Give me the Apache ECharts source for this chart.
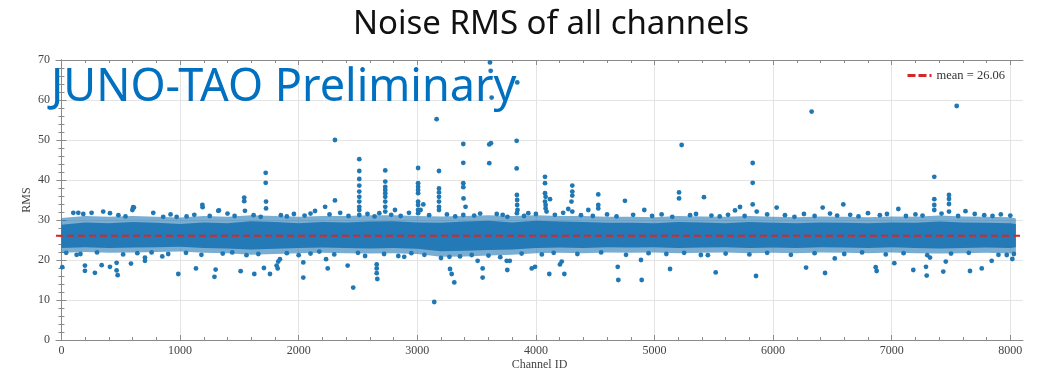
<!DOCTYPE html>
<html><head><meta charset="utf-8">
<script src="https://cdn.jsdelivr.net/npm/echarts@6/dist/echarts.min.js"></script>
<style>html,body{margin:0;padding:0;background:#fff}#c{width:1038px;height:376px}</style>
</head><body><div id="c"></div>
<script>
const chartTitle = 'Noise RMS of all channels';
const watermark = 'JUNO-TAO Preliminary';
const xName = 'Channel ID';
const yName = 'RMS';
const meanRMS = 26.06;
const xRange = [-46, 8107];
const yRange = [0, 70];
const xMajorTicks = [0,1000,2000,3000,4000,5000,6000,7000,8000];
const xMinorTicks = [200,400,600,800,1200,1400,1600,1800,2200,2400,2600,2800,3200,3400,3600,3800,4200,4400,4600,4800,5200,5400,5600,5800,6200,6400,6600,6800,7200,7400,7600,7800];

// dense band of channels (envelope)
const bandChannels = [0,200,400,600,800,1000,1200,1400,1600,1800,2000,2200,2400,2600,2800,3000,3200,3400,3600,3800,4000,4200,4400,4600,4800,5000,5200,5400,5600,5800,6000,6200,6400,6600,6800,7000,7200,7400,7600,7800,8000,8047];
const coreHigh = [28.8,29.4,29.2,29.5,29.3,29.0,29.4,29.2,29.7,29.5,29.2,29.5,29.4,29.6,29.7,29.4,29.3,29.6,29.8,29.4,29.8,29.6,29.5,29.3,29.3,29.2,29.5,29.4,29.2,29.5,29.3,29.2,29.4,29.3,29.2,29.4,29.3,29.6,29.4,29.3,29.2,29.0];
const coreLow = [23.0,23.2,23.0,23.1,23.2,23.3,23.0,22.9,22.6,22.8,23.0,23.1,23.0,22.9,23.0,22.8,22.2,22.3,22.5,22.6,23.0,23.1,23.0,23.2,23.1,23.2,23.0,23.1,23.2,23.0,23.1,23.0,23.2,23.1,23.0,23.2,23.0,22.9,23.0,23.1,23.0,23.2];
const fringeHigh = [30.5,31.0,30.8,31.0,30.8,30.6,31.0,30.8,31.2,31.0,30.8,31.0,31.0,31.2,31.2,31.0,30.9,31.0,31.2,31.0,31.2,31.0,31.0,30.8,30.8,30.7,31.0,30.9,30.8,31.0,30.8,30.7,30.9,30.8,30.7,30.9,30.8,31.1,30.9,30.8,30.7,30.4];
const fringeLow = [21.8,22.0,21.8,21.9,22.0,22.1,21.8,21.7,21.3,21.5,21.7,21.8,21.7,21.6,21.7,21.5,20.8,20.9,21.1,21.3,21.7,21.8,21.7,21.9,21.8,21.9,21.7,21.8,21.9,21.7,21.8,21.7,21.9,21.8,21.7,21.9,21.7,21.6,21.7,21.8,21.6,21.8];

// individual channels outside the band: [channel, RMS]
const highChannels = [
 [598,32.5],[605,33.2],[611,33.1],[1188,33.8],[1190,33.2],[1322,32.3],[1328,32.4],[1541,35.6],[1541,34.7],[1547,32.3],
 [1722,41.8],[1722,39.3],[1725,34.6],[1725,32.9],[2138,32.25],[2223,33.3],[2306,50],[2306,34.9],
 [2511,45.2],[2511,42.25],[2511,40.25],[2511,38.6],[2511,37.1],[2511,35.8],[2511,34.6],[2511,33.3],[2511,32.5],[2511,31.25],
 [2730,42.4],[2730,39.6],[2730,38.3],[2730,37.5],[2730,36.7],[2730,35.8],[2730,34.6],[2730,33.3],[2730,32.1],[2812,32.5],
 [3007,43],[3007,39.2],[3007,38.3],[3007,37.5],[3007,36.7],[3007,34.6],[3007,33.75],[3007,32.5],[3007,31.7],[3028,32.5],[3051,33.9],
 [3163,55.2],[3183,42.25],[3183,37.9],[3183,36.9],[3183,35.8],[3183,34.6],[3183,33.3],[3183,32.5],
 [3388,49],[3388,44.3],[3388,39.2],[3388,38.2],[3390,35.4],[3407,33.3],[3388,31.25],
 [3613,69.4],[3619,67.3],[3627,60.6],[3607,48.9],[3621,49.2],[3607,44.2],[3670,31.5],
 [3843,64.4],[3838,49.8],[3838,42.9],[3840,36.25],[3842,35],[3842,33.75],[3845,32.5],[3840,31.7],[3936,31.7],
 [4077,40.8],[4077,39.2],[4077,36.7],[4082,35.8],[4077,34.6],[4082,33.75],[4082,32.9],[4090,32.1],[4119,35.2],
 [4307,38.6],[4307,37.1],[4307,36.1],[4300,34.6],[4273,32.75],[4307,32.1],
 [4442,32.5],[4526,36.4],[4526,33.75],[4526,32.9],[4751,34.8],[4914,32.5],
 [5207,36.9],[5207,35.4],[5229,48.75],[5417,35.7],[5679,32.4],[5721,33.25],
 [5828,44.25],[5828,39.3],[5828,33.9],[5862,32.1],
 [6030,33.1],[6325,57.1],[6418,33.1],[6592,33.9],[7056,32.75],
 [7359,40.8],[7359,35.2],[7359,33.75],[7359,32.5],[7483,36.25],[7483,35.25],[7483,34],[7483,32.1],[7548,58.5],[7622,32.2]
];
const lowChannels = [
 [7,18.2],[128,21.3],[198,18.6],[198,17.3],[282,16.8],[339,18.7],[409,18.3],[465,19.3],[465,17.4],[474,16.2],[586,19.1],
 [704,20.6],[704,19.8],[850,20.9],[985,16.5],[1134,17.9],[1290,15.8],[1300,17.6],[1511,17.2],[1626,16.5],[1707,18],[1758,16.5],
 [1814,18.6],[1823,17.9],[1828,19.6],[1842,20.2],[2039,19.4],[2039,15.6],[2174,22.1],[2231,20.2],[2245,17.9],[2413,18.6],[2460,13.1],
 [2658,18.9],[2658,17.9],[2658,16.7],[2663,15.25],[2840,21],[2890,20.8],[3143,9.5],[3271,20.8],[3276,17.75],[3290,16.5],[3312,14.4],
 [3459,21.25],[3509,19.8],[3551,17.9],[3551,15.6],[3754,19.8],[3759,17.5],[3780,19.8],[3965,17.9],[3993,18.3],
 [4113,16.5],[4203,18.9],[4218,19.6],[4240,16.5],[4690,18.3],[4695,15],[4886,20],[4892,15],[5131,17.75],[5391,21.25],[5516,16.9],[5856,16],
 [6278,18.1],[6438,16.75],[6520,20.4],[6865,18.2],[6873,17.25],[7022,19.2],[7182,17.5],[7289,18.3],[7295,16.1],[7323,20.6],
 [7435,17.1],[7456,19.6],[7660,17.25],[7759,17.9],[7843,19.8],[7970,21.25],[8017,20.25]
];
const upperEdgeChannels = [
 [100,31.8],[142,31.8],[184,31.5],[254,31.8],[352,32.1],[409,31.7],[480,31.2],[540,30.9],[774,31.8],[858,30.8],[920,31.4],[971,30.8],
 [1055,30.9],[1120,31.3],[1250,31.0],[1400,31.6],[1460,31.0],[1620,31.2],[1680,30.8],[1850,31.2],[1900,30.9],[1960,31.5],[2050,31.1],
 [2100,31.6],[2260,31.4],[2350,31.8],[2420,31.0],[2580,31.5],[2640,30.9],[2680,31.7],[2780,31.3],[2860,31.0],[2930,31.8],[3100,31.2],
 [3250,31.4],[3320,30.9],[3480,31.1],[3530,31.6],[3720,31.3],[3760,30.8],[3900,31.0],[4000,31.5],[4160,31.3],[4230,31.8],[4380,31.2],
 [4480,31.0],[4600,31.4],[4680,30.9],[4820,31.3],[4980,31.0],[5060,31.4],[5150,30.8],[5300,31.2],[5350,31.5],[5480,31.1],[5550,30.9],
 [5620,31.3],[5760,31.0],[5950,31.4],[6100,31.2],[6180,30.8],[6260,31.5],[6350,31.0],[6480,31.6],[6540,31.1],[6650,31.3],[6720,30.9],
 [6800,31.7],[6900,31.2],[6960,31.5],[7120,31.0],[7200,31.4],[7260,31.1],[7420,31.6],[7560,31.0],[7700,31.5],[7780,31.2],[7850,31.0],
 [7920,31.4],[8000,31.1]
];
const lowerEdgeChannels = [
 [40,21.8],[160,21.5],[300,21.9],[520,21.4],[640,21.7],[760,21.9],[900,21.5],[1050,21.8],[1180,21.3],[1360,21.6],[1440,21.9],[1560,21.2],
 [1660,21.5],[1900,21.7],[2000,21.2],[2100,21.6],[2300,21.4],[2500,21.8],[2560,21.0],[2720,21.5],[2950,21.7],[3060,21.3],[3200,20.5],
 [3360,20.9],[3600,21.1],[3700,20.7],[3880,21.6],[4050,21.4],[4150,21.8],[4350,21.5],[4550,21.9],[4760,21.3],[4950,21.7],[5100,21.5],
 [5250,21.8],[5450,21.2],[5600,21.6],[5800,21.4],[5950,21.8],[6150,21.3],[6350,21.7],[6600,21.5],[6750,21.9],[6950,21.4],[7100,21.7],
 [7300,21.2],[7500,21.6],[7650,21.8],[7900,21.3],[8030,21.5]
];

const BLUE = '#1f77b4';
const SERIF = '"Liberation Serif","DejaVu Serif",serif';
const AX = '#8a8a8a';

function bandRenderer(lo, hi, color, opacity) {
  return function (params, api) {
    const pts = [];
    for (let i = 0; i < bandChannels.length; i++) pts.push(api.coord([bandChannels[i], hi[i]]));
    for (let i = bandChannels.length - 1; i >= 0; i--) pts.push(api.coord([bandChannels[i], lo[i]]));
    return { type: 'polygon', shape: { points: pts }, style: { fill: color, opacity: opacity } };
  };
}

const chart = echarts.init(document.getElementById('c'), null, { renderer: 'canvas' });
const xCommon = { type: 'value', min: xRange[0], max: xRange[1], axisLabel: { show: false }, splitLine: { show: false }, axisLine: { show: false } };
const meanName = 'mean = ' + meanRMS.toFixed(2);
chart.setOption({
  animation: false,
  backgroundColor: '#fff',
  title: { text: chartTitle, left: 546, textAlign: 'center', top: 3,
    textStyle: { fontFamily: '"Noto Sans"', fontSize: 33, fontWeight: 'normal', color: '#111' } },
  legend: { right: 28, top: 64, itemWidth: 24, itemHeight: 3, itemGap: 6,
    data: [{ name: meanName, icon: 'path://M0,0H8V3H0Z M11,0H19V3H11Z M22,0H24V3H22Z' }],
    textStyle: { fontFamily: SERIF, fontSize: 12.5, color: '#333' } },
  grid: { left: 56, right: 15, top: 60, bottom: 36, containLabel: false },
  xAxis: [
    { type: 'value', min: xRange[0], max: xRange[1], position: 'bottom',
      name: xName, nameLocation: 'middle', nameGap: 19, nameMoveOverlap: false,
      nameTextStyle: { fontFamily: SERIF, fontSize: 12, color: '#444' },
      axisLine: { show: true, lineStyle: { color: AX, width: 1 } },
      axisTick: { show: true, inside: true, length: 5, customValues: xMajorTicks, lineStyle: { color: AX } },
      axisLabel: { show: true, customValues: xMajorTicks, margin: 5, fontFamily: SERIF, fontSize: 12, color: '#444',
        formatter: function (v) { return String(v); } },
      splitLine: { show: true, lineStyle: { color: '#e4e4e4', width: 1 } } },
    Object.assign({}, xCommon, { position: 'bottom', axisTick: { show: true, inside: true, length: 3, customValues: xMinorTicks, lineStyle: { color: AX } } }),
    { type: 'value', min: xRange[0], max: xRange[1], position: 'top',
      axisLine: { show: true, lineStyle: { color: AX, width: 1 } },
      axisTick: { show: true, inside: true, length: 5, customValues: xMajorTicks, lineStyle: { color: AX } },
      axisLabel: { show: false }, splitLine: { show: false } },
    Object.assign({}, xCommon, { position: 'top', axisTick: { show: true, inside: true, length: 3, customValues: xMinorTicks, lineStyle: { color: AX } } })
  ],
  yAxis: [
    { type: 'value', min: yRange[0], max: yRange[1], interval: 10, position: 'left',
      name: yName, nameLocation: 'middle', nameGap: 23, nameRotate: 90, nameMoveOverlap: false,
      nameTextStyle: { fontFamily: SERIF, fontSize: 12, color: '#444' },
      axisLine: { show: true, lineStyle: { color: AX, width: 1 } },
      axisTick: { show: true, inside: true, length: 5, lineStyle: { color: AX } },
      minorTick: { show: true, splitNumber: 5, length: 3, lineStyle: { color: AX } },
      axisLabel: { show: true, margin: 6, fontFamily: SERIF, fontSize: 12, color: '#444' },
      splitLine: { show: true, lineStyle: { color: '#e4e4e4', width: 1 } } },
    { type: 'value', min: yRange[0], max: yRange[1], interval: 10, position: 'right',
      axisLine: { show: true, lineStyle: { color: AX, width: 1 } },
      axisTick: { show: true, inside: true, length: 5, lineStyle: { color: AX } },
      minorTick: { show: true, splitNumber: 5, length: 3, lineStyle: { color: AX } },
      axisLabel: { show: false }, splitLine: { show: false } }
  ],
  graphic: [
    { type: 'text', left: 51, top: 66, z: 100,
      style: { text: watermark, font: '45px "Noto Sans"', fill: '#0070c0' } }
  ],
  series: [
    { type: 'custom', name: 'fringe', xAxisIndex: 0, yAxisIndex: 0, data: [[0, meanRMS]], z: 2, silent: true,
      renderItem: bandRenderer(fringeLow, fringeHigh, BLUE, 0.6) },
    { type: 'custom', name: 'core', xAxisIndex: 0, yAxisIndex: 0, data: [[0, meanRMS]], z: 3, silent: true,
      renderItem: bandRenderer(coreLow, coreHigh, BLUE, 0.95) },
    { type: 'scatter', name: 'channels', xAxisIndex: 0, yAxisIndex: 0, z: 4, symbolSize: 4.8,
      itemStyle: { color: BLUE, opacity: 1 },
      data: [].concat(upperEdgeChannels, lowerEdgeChannels, highChannels, lowChannels) },
    { type: 'line', name: meanName, xAxisIndex: 0, yAxisIndex: 0, z: 6, showSymbol: false, symbol: 'none',
      lineStyle: { color: '#d62728', width: 2.2, type: [7, 4] },
      itemStyle: { color: '#d62728' },
      data: [[xRange[0], meanRMS], [xRange[1], meanRMS]] }
  ]
});
</script></body></html>
